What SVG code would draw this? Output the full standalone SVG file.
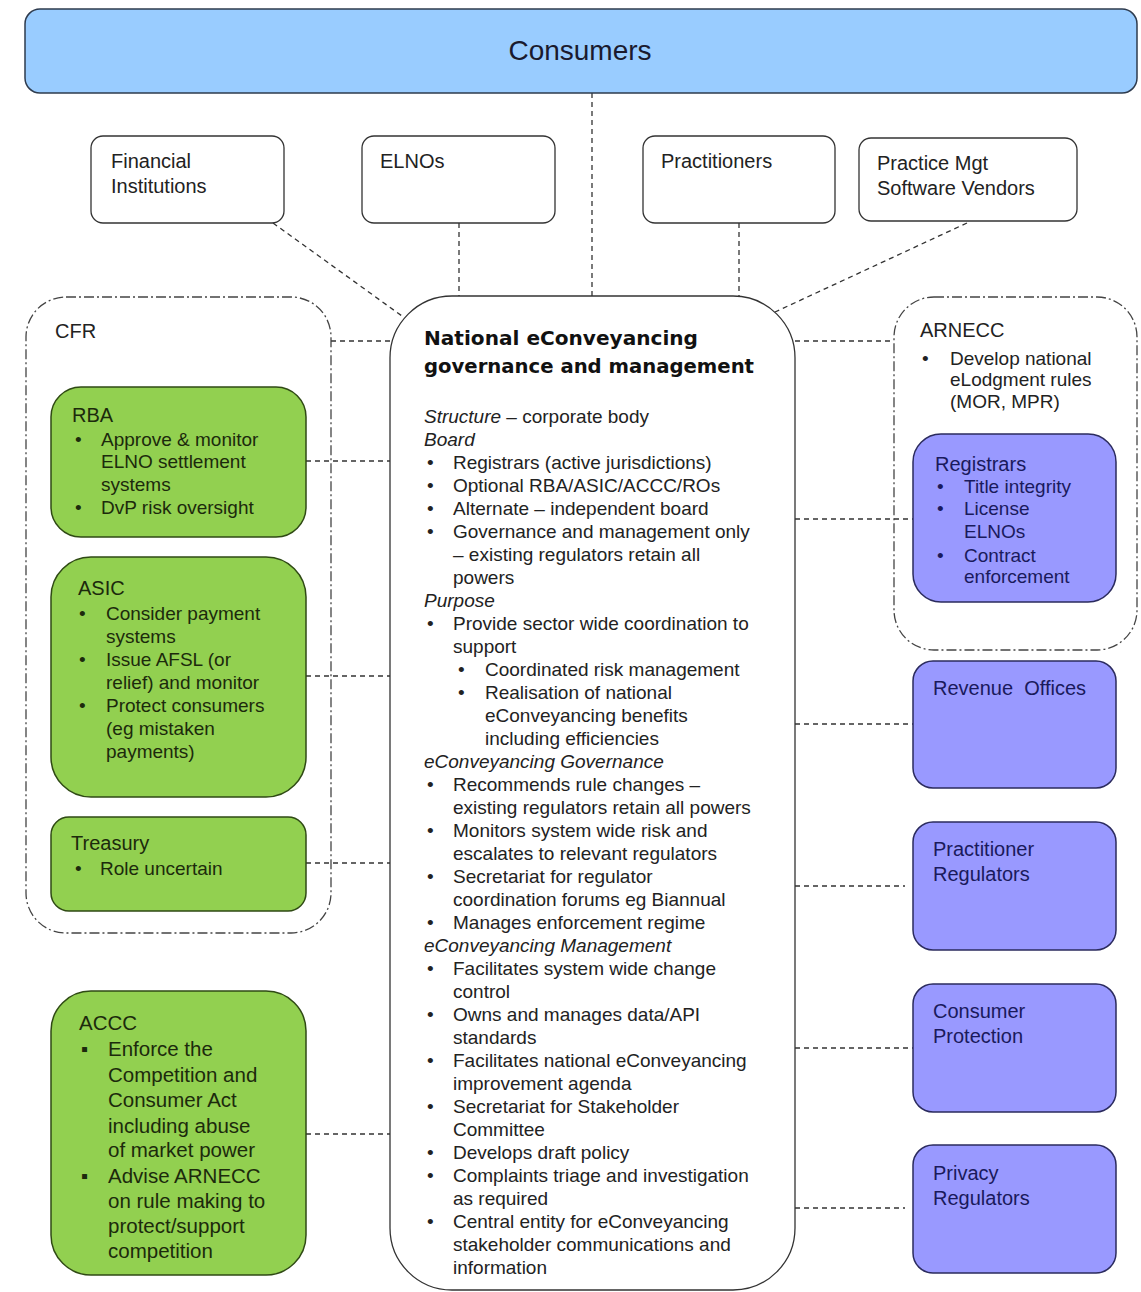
<svg xmlns="http://www.w3.org/2000/svg" width="1141" height="1292" viewBox="0 0 1141 1292">
<style>
.t{font-family:"Liberation Sans",Arial,sans-serif;font-size:19px;fill:#222}
.i{font-style:italic}
.ttl{font-family:"DejaVu Sans",sans-serif;font-weight:bold;font-size:20px;fill:#111}
.h{font-size:20px}
.big{font-size:20.5px}
.conn{stroke:#333;stroke-width:1.3;stroke-dasharray:5 4;fill:none}
.cont{fill:none;stroke:#444;stroke-width:1.3;stroke-dasharray:10 3 2 3}
.green{fill:#92D050;stroke:#2F4A14;stroke-width:1.5}
.purple{fill:#9999FF;stroke:#2B2B5E;stroke-width:1.5}
.white{fill:#fff;stroke:#333;stroke-width:1.3}
.gt{fill:#1C2A0C}
.pt{fill:#1A1A5C}
</style>
<rect width="1141" height="1292" fill="#fff"/>

<g id="connectors">
<line class="conn" x1="592" y1="93" x2="592" y2="296"/>
<line class="conn" x1="273" y1="223" x2="402" y2="316"/>
<line class="conn" x1="459" y1="223" x2="459" y2="296"/>
<line class="conn" x1="739" y1="223" x2="739" y2="296"/>
<line class="conn" x1="967" y1="223" x2="775" y2="312"/>
<line class="conn" x1="331" y1="341" x2="390" y2="341"/>
<line class="conn" x1="306" y1="461" x2="390" y2="461"/>
<line class="conn" x1="306" y1="676" x2="390" y2="676"/>
<line class="conn" x1="306" y1="863" x2="390" y2="863"/>
<line class="conn" x1="306" y1="1134" x2="390" y2="1134"/>
<line class="conn" x1="795" y1="341" x2="894" y2="341"/>
<line class="conn" x1="795" y1="519" x2="913" y2="519"/>
<line class="conn" x1="795" y1="724" x2="913" y2="724"/>
<line class="conn" x1="795" y1="886" x2="905" y2="886"/>
<line class="conn" x1="795" y1="1048" x2="913" y2="1048"/>
<line class="conn" x1="795" y1="1208" x2="905" y2="1208"/>
</g>

<g id="consumers">
<rect x="25" y="9" width="1112" height="84" rx="15" fill="#99CCFF" stroke="#2E3B4E" stroke-width="1.5"/>
<text class="t" x="580" y="60" text-anchor="middle" style="font-size:28px;fill:#1a1a2e">Consumers</text>
</g>

<g id="financial-institutions">
<rect class="white" x="91" y="136" width="193" height="87" rx="12"/>
<text class="t h" x="111" y="168">Financial</text>
<text class="t h" x="111" y="193">Institutions</text>
</g>
<g id="elnos">
<rect class="white" x="362" y="136" width="193" height="87" rx="12"/>
<text class="t h" x="380" y="168">ELNOs</text>
</g>
<g id="practitioners">
<rect class="white" x="643" y="136" width="192" height="87" rx="12"/>
<text class="t h" x="661" y="168">Practitioners</text>
</g>
<g id="practice-mgt">
<rect class="white" x="859" y="138" width="218" height="83" rx="12"/>
<text class="t h" x="877" y="170">Practice Mgt</text>
<text class="t h" x="877" y="195">Software  Vendors</text>
</g>

<g id="cfr">
<rect class="cont" x="26" y="297" width="305" height="636" rx="40"/>
<text class="t h" x="55" y="338">CFR</text>
</g>

<g id="rba">
<rect class="green" x="51" y="387" width="255" height="150" rx="30"/>
<text class="t h gt" x="72" y="422">RBA</text>
<text class="t gt" x="75" y="446">•</text><text class="t gt" x="101" y="446">Approve &amp; monitor</text>
<text class="t gt" x="101" y="468">ELNO settlement</text>
<text class="t gt" x="101" y="491">systems</text>
<text class="t gt" x="75" y="514">•</text><text class="t gt" x="101" y="514">DvP risk oversight</text>
</g>

<g id="asic">
<rect class="green" x="51" y="557" width="255" height="240" rx="40"/>
<text class="t h gt" x="78" y="595">ASIC</text>
<text class="t gt" x="79" y="620">•</text><text class="t gt" x="106" y="620">Consider payment</text>
<text class="t gt" x="106" y="643">systems</text>
<text class="t gt" x="79" y="666">•</text><text class="t gt" x="106" y="666">Issue AFSL (or</text>
<text class="t gt" x="106" y="689">relief) and monitor</text>
<text class="t gt" x="79" y="712">•</text><text class="t gt" x="106" y="712">Protect consumers</text>
<text class="t gt" x="106" y="735">(eg mistaken</text>
<text class="t gt" x="106" y="758">payments)</text>
</g>

<g id="treasury">
<rect class="green" x="51" y="817" width="255" height="94" rx="18"/>
<text class="t h gt" x="71" y="850">Treasury</text>
<text class="t gt" x="75" y="875">•</text><text class="t gt" x="100" y="875">Role  uncertain</text>
</g>

<g id="accc">
<rect class="green" x="51" y="991" width="255" height="284" rx="40"/>
<text class="t big gt" x="79" y="1030">ACCC</text>
<text class="t gt" x="81" y="1056" style="font-size:20px">▪</text><text class="t big gt" x="108" y="1056">Enforce the</text>
<text class="t big gt" x="108" y="1082">Competition and</text>
<text class="t big gt" x="108" y="1107">Consumer Act</text>
<text class="t big gt" x="108" y="1133">including abuse</text>
<text class="t big gt" x="108" y="1157">of market power</text>
<text class="t gt" x="81" y="1183" style="font-size:20px">▪</text><text class="t big gt" x="108" y="1183">Advise ARNECC</text>
<text class="t big gt" x="108" y="1208">on rule making to</text>
<text class="t big gt" x="108" y="1233">protect/support</text>
<text class="t big gt" x="108" y="1258">competition</text>
</g>

<g id="national">
<rect class="white" x="390" y="296" width="405" height="994" rx="62"/>
<text class="ttl" x="424" y="345" textLength="274" lengthAdjust="spacingAndGlyphs">National eConveyancing</text>
<text class="ttl" x="424" y="373" textLength="330" lengthAdjust="spacingAndGlyphs">governance and management</text>
<text class="t" x="424" y="423"><tspan class="i">Structure</tspan> – corporate body</text>
<text class="t i" x="424" y="446">Board</text>
<text class="t" x="427" y="469">•</text><text class="t" x="453" y="469">Registrars (active jurisdictions)</text>
<text class="t" x="427" y="492">•</text><text class="t" x="453" y="492">Optional RBA/ASIC/ACCC/ROs</text>
<text class="t" x="427" y="515">•</text><text class="t" x="453" y="515">Alternate – independent board</text>
<text class="t" x="427" y="538">•</text><text class="t" x="453" y="538">Governance and management only</text>
<text class="t" x="453" y="561">– existing regulators retain all</text>
<text class="t" x="453" y="584">powers</text>
<text class="t i" x="424" y="607">Purpose</text>
<text class="t" x="427" y="630">•</text><text class="t" x="453" y="630">Provide sector wide coordination to</text>
<text class="t" x="453" y="653">support</text>
<text class="t" x="458" y="676">•</text><text class="t" x="485" y="676">Coordinated risk management</text>
<text class="t" x="458" y="699">•</text><text class="t" x="485" y="699">Realisation of national</text>
<text class="t" x="485" y="722">eConveyancing benefits</text>
<text class="t" x="485" y="745">including efficiencies</text>
<text class="t i" x="424" y="768">eConveyancing Governance</text>
<text class="t" x="427" y="791">•</text><text class="t" x="453" y="791">Recommends rule changes –</text>
<text class="t" x="453" y="814">existing regulators retain all powers</text>
<text class="t" x="427" y="837">•</text><text class="t" x="453" y="837">Monitors system wide risk and</text>
<text class="t" x="453" y="860">escalates to relevant regulators</text>
<text class="t" x="427" y="883">•</text><text class="t" x="453" y="883">Secretariat for  regulator</text>
<text class="t" x="453" y="906">coordination forums eg Biannual</text>
<text class="t" x="427" y="929">•</text><text class="t" x="453" y="929">Manages enforcement regime</text>
<text class="t i" x="424" y="952">eConveyancing Management</text>
<text class="t" x="427" y="975">•</text><text class="t" x="453" y="975">Facilitates system wide change</text>
<text class="t" x="453" y="998">control</text>
<text class="t" x="427" y="1021">•</text><text class="t" x="453" y="1021">Owns and manages data/API</text>
<text class="t" x="453" y="1044">standards</text>
<text class="t" x="427" y="1067">•</text><text class="t" x="453" y="1067">Facilitates national eConveyancing</text>
<text class="t" x="453" y="1090">improvement agenda</text>
<text class="t" x="427" y="1113">•</text><text class="t" x="453" y="1113">Secretariat for Stakeholder</text>
<text class="t" x="453" y="1136">Committee</text>
<text class="t" x="427" y="1159">•</text><text class="t" x="453" y="1159">Develops draft policy</text>
<text class="t" x="427" y="1182">•</text><text class="t" x="453" y="1182">Complaints triage and investigation</text>
<text class="t" x="453" y="1205">as required</text>
<text class="t" x="427" y="1228">•</text><text class="t" x="453" y="1228">Central entity for eConveyancing</text>
<text class="t" x="453" y="1251">stakeholder communications and</text>
<text class="t" x="453" y="1274">information</text>
</g>

<g id="arnecc">
<rect class="cont" x="894" y="297" width="243" height="353" rx="40"/>
<text class="t h" x="920" y="337">ARNECC</text>
<text class="t" x="922" y="365">•</text><text class="t" x="950" y="365">Develop national</text>
<text class="t" x="950" y="386">eLodgment rules</text>
<text class="t" x="950" y="408">(MOR,  MPR)</text>
</g>

<g id="registrars">
<rect class="purple" x="913" y="434" width="203" height="168" rx="28"/>
<text class="t h pt" x="935" y="471">Registrars</text>
<text class="t pt" x="937" y="493">•</text><text class="t pt" x="964" y="493">Title integrity</text>
<text class="t pt" x="937" y="515">•</text><text class="t pt" x="964" y="515">License</text>
<text class="t pt" x="964" y="538">ELNOs</text>
<text class="t pt" x="937" y="562">•</text><text class="t pt" x="964" y="562">Contract</text>
<text class="t pt" x="964" y="583">enforcement</text>
</g>

<g id="revenue-offices">
<rect class="purple" x="913" y="661" width="203" height="127" rx="20"/>
<text class="t h pt" x="933" y="695" xml:space="preserve">Revenue  Offices</text>
</g>
<g id="practitioner-regulators">
<rect class="purple" x="913" y="822" width="203" height="128" rx="20"/>
<text class="t h pt" x="933" y="856">Practitioner</text>
<text class="t h pt" x="933" y="881">Regulators</text>
</g>
<g id="consumer-protection">
<rect class="purple" x="913" y="984" width="203" height="128" rx="20"/>
<text class="t h pt" x="933" y="1018">Consumer</text>
<text class="t h pt" x="933" y="1043">Protection</text>
</g>
<g id="privacy-regulators">
<rect class="purple" x="913" y="1145" width="203" height="128" rx="20"/>
<text class="t h pt" x="933" y="1180">Privacy</text>
<text class="t h pt" x="933" y="1205">Regulators</text>
</g>
</svg>
